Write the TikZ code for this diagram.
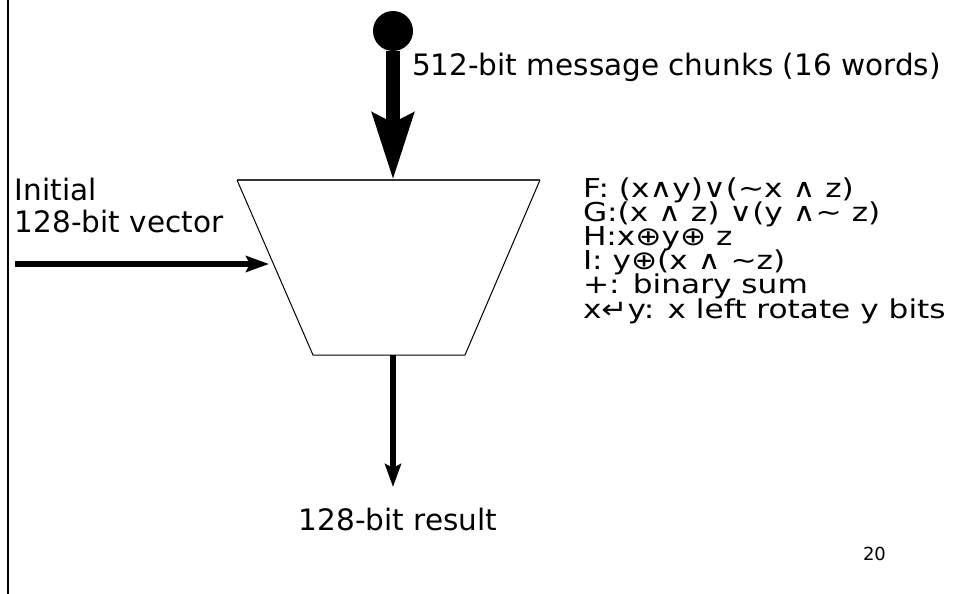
\documentclass[tikz,border=0pt]{standalone}
\usepackage{fontspec}
\setmainfont{DejaVu Sans}
\newfontfamily\widesans[FakeStretch=1.2]{DejaVu Sans}
\usetikzlibrary{arrows.meta}
\tikzset{
  lbl/.style={inner sep=0pt, outer sep=0pt, font=\fontsize{29.5}{30}\selectfont},
  fnline/.style={inner sep=0pt, outer sep=0pt, font=\widesans\fontsize{26}{26}\selectfont},
  pagenum/.style={inner sep=0pt, outer sep=0pt, font=\fontsize{18}{18}\selectfont},
  bigflow/.style={line width=14pt, -{Stealth[length=66pt, width=40pt, inset=9pt]}},
  flow/.style={line width=6pt, -{Stealth[length=23pt, width=16pt, inset=4pt]}},
  unit/.style={line width=1pt, line join=miter},
}
\begin{document}
\begin{tikzpicture}[x=1pt, y=-1pt]
  \useasboundingbox (0,0) rectangle (959,594);

  % left frame rule
  \coordinate (frameTop) at (7.5,0);
  \coordinate (frameBot) at (7.5,594);
  \draw[line width=2pt] (frameTop) -- (frameBot);

  % compression unit (trapezoid)
  \coordinate (tl) at (237,180);
  \coordinate (tr) at (540,180);
  \coordinate (br) at (465,355);
  \coordinate (bl) at (313,355);
  \draw[unit] (tl) -- (bl) -- (br) -- (tr);
  \draw[line width=1.6pt, black!80] (tl) -- (tr);

  % connection points on the unit
  \coordinate (topIn) at (393,180);
  \coordinate (leftIn) at (269,264);
  \coordinate (botOut) at (393,355);

  % message input
  \node[circle, fill=black, minimum size=40pt, inner sep=0pt] (src) at (393,31) {};
  \draw[bigflow] (src) -- (topIn);
  \node[lbl, anchor=base west] (msg) at (412,76) {512-bit message chunks (16 words)};

  % initial vector input
  \coordinate (ivStart) at (15,264);
  \draw[flow] (ivStart) -- (leftIn);
  \node[lbl, anchor=base west] (iv1) at (15,200) {Initial};
  \node[lbl, anchor=base west] (iv2) at (15,232) {128-bit vector};

  % result output
  \coordinate (resEnd) at (393,487);
  \draw[flow] (botOut) -- (resEnd);
  \node[lbl, anchor=base] (res) at (398,530) {128-bit result};

  % round functions
  \node[fnline, anchor=base west] (fF) at (583,197) {F: (x∧y)∨(\textasciitilde x ∧ z)};
  \node[fnline, anchor=base west] (fG) at (583,221.2) {G:(x ∧ z) ∨(y ∧\textasciitilde\ z)};
  \node[fnline, anchor=base west] (fH) at (583,245.4) {H:x⊕y⊕ z};
  \node[fnline, anchor=base west] (fI) at (583,269.6) {I: y⊕(x ∧ \textasciitilde z)};
  \node[fnline, anchor=base west] (fSum) at (583,293.8) {+: binary sum};
  \node[fnline, anchor=base west] (fRot) at (583,318) {x↵y: x left rotate y bits};

  % page number
  \node[pagenum, anchor=base west] (page) at (863,560) {20};
\end{tikzpicture}
\end{document}
